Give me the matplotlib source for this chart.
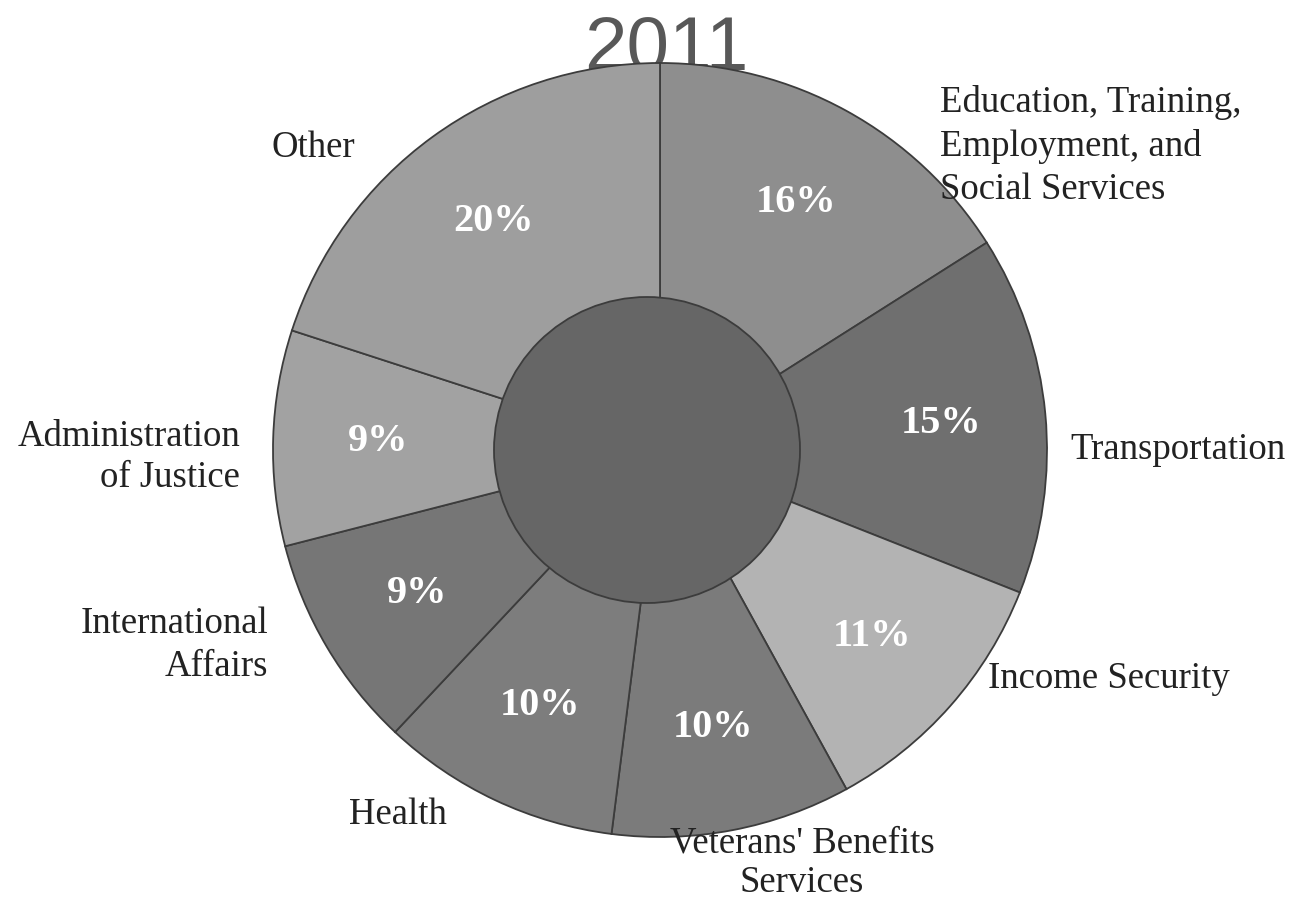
import matplotlib
matplotlib.use("Agg")
import matplotlib.pyplot as plt
from matplotlib.patches import Circle

title = "2011"
categories = ["Education, Training,\nEmployment, and\nSocial Services",
              "Transportation", "Income Security",
              "Veterans' Benefits\nServices", "Health",
              "International\nAffairs", "Administration\nof Justice", "Other"]
values = [16, 15, 11, 10, 10, 9, 9, 20]
colors = ["#8e8e8e", "#6f6f6f", "#b3b3b3", "#7b7b7b", "#7d7d7d",
          "#767676", "#a2a2a2", "#9e9e9e"]

W, H = 1291, 906
CX, CY, R = 660, 450, 387

def px(x, y):
    return ((x - CX) / R, (CY - y) / R)

fig = plt.figure(figsize=(W / 100, H / 100), dpi=100)
ax = fig.add_axes([0, 0, 1, 1])

wedges, texts, autotexts = ax.pie(
    values, colors=colors, startangle=90, counterclock=False,
    radius=1.0, center=(0, 0), frame=True,
    wedgeprops=dict(edgecolor="#3c3c3c", linewidth=1.3),
    autopct=lambda p: f"{p:.0f}%", pctdistance=0.73,
    textprops=dict(family="Liberation Serif"))
for w in wedges:
    w.set_zorder(1)
ax.set_xlim(-CX / R, (W - CX) / R)
ax.set_ylim(-(H - CY) / R, CY / R)
ax.set_aspect("auto")
ax.axis("off")

# title behind the pie
tx, ty = px(666, 70)
ax.text(tx, ty, title, ha="center", va="baseline", fontsize=55,
        family="Liberation Sans", color="#585858", zorder=0)

for t in autotexts:
    t.set_color("white")
    t.set_fontsize(29)
    t.set_fontweight("bold")
    t.set_zorder(3)

# inner hole
hx, hy = px(647, 450)
ax.add_patch(Circle((hx, hy), 153 / R, facecolor="#666666",
                    edgecolor="#3c3c3c", linewidth=1.3, zorder=2))

# category labels: (x, y, alignment, linespacing)
label_pos = [
    (940, 146, "left", 1.32),
    (1070, 450, "left", 1.32),
    (988, 679, "left", 1.32),
    (802, 863, "center", 1.22),
    (398, 815, "center", 1.32),
    (268, 645, "right", 1.32),
    (240, 457, "right", 1.25),
    (313, 148, "center", 1.32),
]
for cat, (x, y, ha, ls) in zip(categories, label_pos):
    lx, ly = px(x, y)
    ax.text(lx, ly, cat, ha=ha, va="center", multialignment=ha,
            fontsize=26.5, family="Liberation Serif", color="#222222",
            linespacing=ls, zorder=4)

fig.savefig("out.png", dpi=100, facecolor="white")
